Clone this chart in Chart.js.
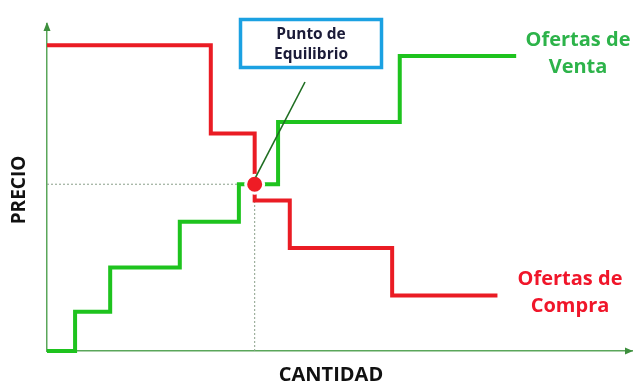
<!DOCTYPE html>
<html>
<head>
<meta charset="utf-8">
<script src="https://cdn.jsdelivr.net/npm/chart.js@4.4.0/dist/chart.umd.min.js"></script>
<style>
  body { margin: 0; background: #fff; }
  #wrap { width: 635px; height: 385px; }
</style>
</head>
<body>
<div id="wrap"><canvas id="myChart"></canvas></div>
<script>
// ofertas de compra (demanda) - escalones
const cantidadCompra = [0, 28, 35.5, 41.5, 59, 77];
const precioCompra = [93.5, 66.5, 46, 31.5, 17, 17];
// ofertas de venta (oferta) - escalones
const cantidadVenta = [0, 4.8, 10.8, 22.7, 32.8, 39.5, 60.3, 80.2];
const precioVenta = [0, 12, 25.5, 39.5, 51, 70, 90.2, 90.2];
// punto de equilibrio
const cantidadEq = 35.5;
const precioEq = 51;

const toPoints = (xs, ys) => xs.map((x, i) => ({x: x, y: ys[i]}));

const FONT = '"Open Sans", sans-serif';
const axisColor = '#5aa65a';

const textPlugin = {
    id: 'textos',
    afterDraw(chart) {
        const ctx = chart.ctx;
        const {left, right, top, bottom} = chart.chartArea;
        const xs = chart.scales.x, ys = chart.scales.y;
        ctx.save();

        // flechas de los ejes
        ctx.fillStyle = '#3d8f3d';
        ctx.beginPath();
        ctx.moveTo(left, top - 2);
        ctx.lineTo(left - 3.5, top + 7);
        ctx.lineTo(left + 3.5, top + 7);
        ctx.closePath();
        ctx.fill();
        ctx.beginPath();
        ctx.moveTo(right + 1, bottom);
        ctx.lineTo(right - 7, bottom - 3.5);
        ctx.lineTo(right - 7, bottom + 3.5);
        ctx.closePath();
        ctx.fill();

        // linea hacia el recuadro
        const px = xs.getPixelForValue(cantidadEq);
        const py = ys.getPixelForValue(precioEq);
        ctx.strokeStyle = '#1f6e22';
        ctx.lineWidth = 1.6;
        ctx.beginPath();
        ctx.moveTo(px + 1, py - 7);
        ctx.lineTo(305, 82);
        ctx.stroke();

        // recuadro
        ctx.strokeStyle = '#1ba1e2';
        ctx.lineWidth = 3.5;
        ctx.strokeRect(240.5, 19.5, 141, 48);

        ctx.textAlign = 'center';
        ctx.textBaseline = 'middle';
        ctx.fillStyle = '#1b1b38';
        ctx.font = 'bold 15.5px ' + FONT;
        ctx.fillText('Punto de', 311, 35);
        ctx.fillText('Equilibrio', 311, 55);

        ctx.font = 'bold 20px ' + FONT;
        ctx.fillStyle = '#2db34a';
        ctx.fillText('Ofertas de', 578, 40);
        ctx.fillText('Venta', 578, 67);
        ctx.fillStyle = '#f0162a';
        ctx.fillText('Ofertas de', 570, 279);
        ctx.fillText('Compra', 570, 306);

        ctx.fillStyle = '#111';
        ctx.font = 'bold 20px ' + FONT;
        ctx.fillText('CANTIDAD', 331, 375);
        ctx.font = 'bold 19px ' + FONT;
        ctx.translate(19.5, 190);
        ctx.rotate(-Math.PI / 2);
        ctx.fillText('PRECIO', 0, 0);
        ctx.restore();
    }
};

const ctx = document.getElementById('myChart').getContext('2d');
const myChart = new Chart(ctx, {
    type: 'line',
    data: {
        datasets: [{
            data: [{x: cantidadEq, y: precioEq}],
            showLine: false,
            pointRadius: 9,
            pointBackgroundColor: '#ee1c25',
            pointBorderColor: '#ffffff',
            pointBorderWidth: 3,
            clip: false
        }, {
            data: toPoints(cantidadCompra, precioCompra),
            stepped: 'before',
            borderColor: '#ea1c24',
            borderWidth: 4,
            pointRadius: 0,
            clip: false
        }, {
            data: toPoints(cantidadVenta, precioVenta),
            stepped: 'before',
            borderColor: '#1ec31e',
            borderWidth: 4,
            pointRadius: 0,
            clip: false
        }, {
            data: [{x: 0, y: precioEq}, {x: cantidadEq, y: precioEq}],
            borderColor: '#8aa08a',
            borderWidth: 1,
            borderDash: [2, 2],
            pointRadius: 0
        }, {
            data: [{x: cantidadEq, y: 0}, {x: cantidadEq, y: precioEq}],
            borderColor: '#8aa08a',
            borderWidth: 1,
            borderDash: [2, 2],
            pointRadius: 0
        }]
    },
    options: {
        responsive: true,
        maintainAspectRatio: false,
        animation: false,
        layout: { autoPadding: false, padding: { top: 24, right: 3, left: 0, bottom: 0 } },
        plugins: {
            legend: { display: false },
            tooltip: { enabled: false }
        },
        scales: {
            x: {
                type: 'linear',
                min: 0,
                max: 100,
                grid: { display: false },
                ticks: { display: false },
                border: { color: axisColor, width: 1.5 },
                afterFit: (scale) => { scale.height = 34; }
            },
            y: {
                min: 0,
                max: 100,
                grid: { display: false },
                ticks: { display: false },
                border: { color: axisColor, width: 1.5 },
                afterFit: (scale) => { scale.width = 47; }
            }
        }
    },
    plugins: [textPlugin]
});
</script>
</body>
</html>
